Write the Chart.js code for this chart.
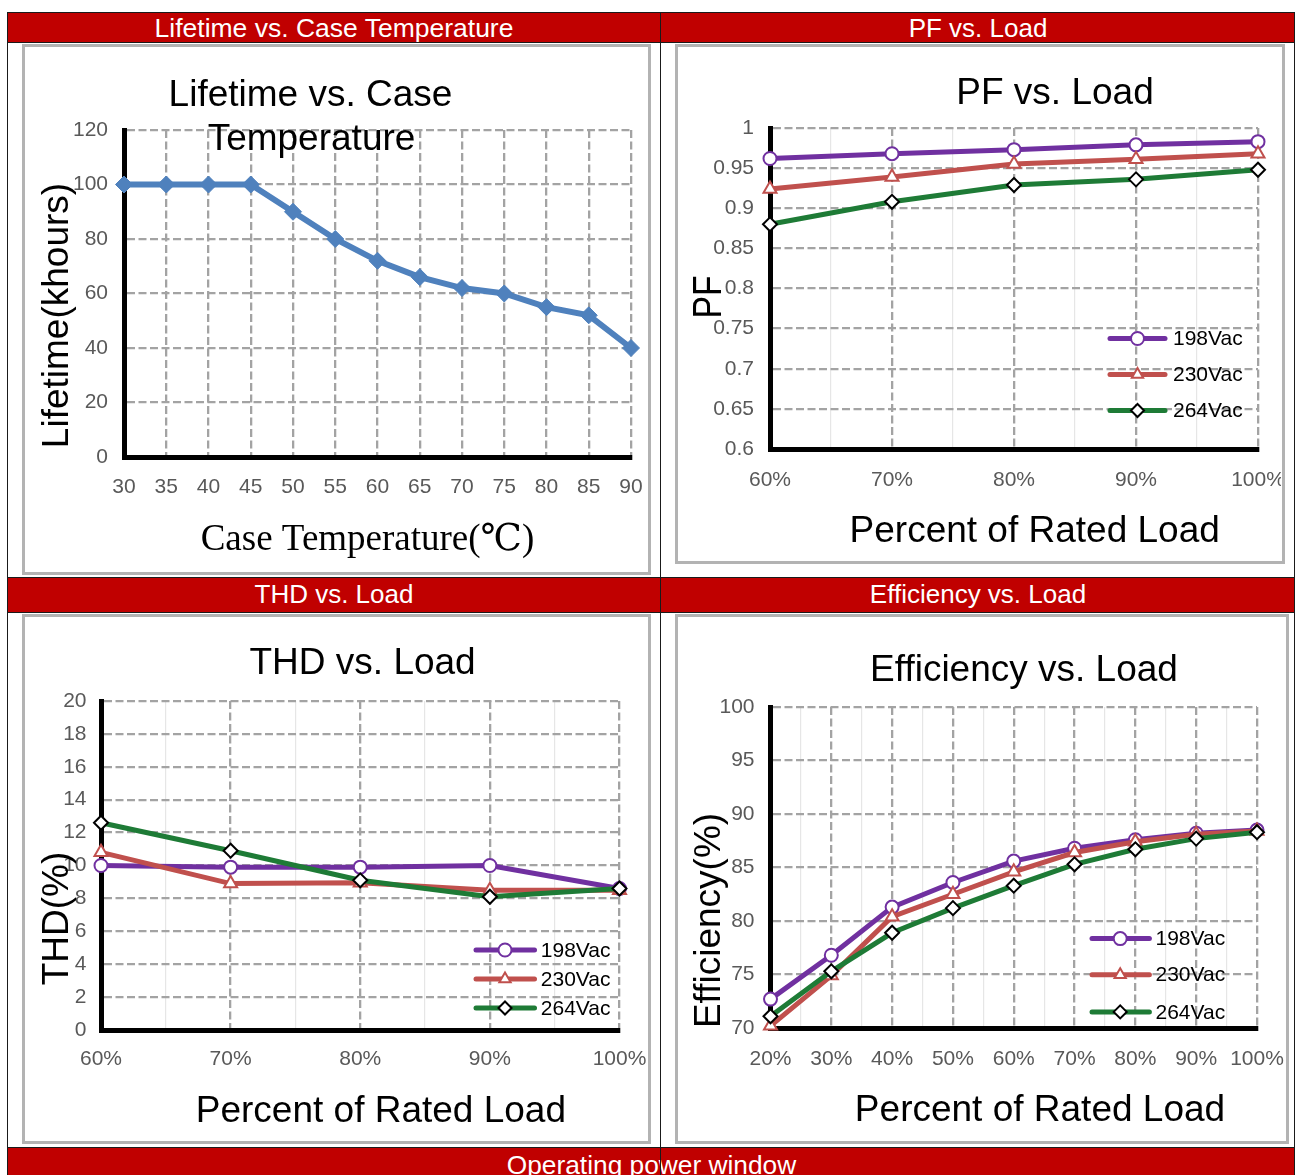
<!DOCTYPE html>
<html>
<head>
<meta charset="utf-8">
<title>Driver characteristic curves</title>
<script src="https://cdn.jsdelivr.net/npm/chart.js@4.4.1/dist/chart.umd.min.js"></script>
<style>
  html, body { margin:0; padding:0; background:#fff; }
  #page { position:relative; width:1296px; height:1175px; overflow:hidden; background:#fff; font-family:'Liberation Sans', Arial, sans-serif; }
  .bar { position:absolute; background:#C00000; color:#fff; text-align:center; box-sizing:border-box; border-top:1px solid #1a1a1a; border-bottom:1px solid #1a1a1a; font-size:26px; white-space:nowrap; overflow:hidden; }
  .vline { position:absolute; top:12px; width:1px; height:1163px; background:#1a1a1a; }
  .panel { position:absolute; box-sizing:border-box; border:3px solid #B3B3B3; background:#fff; }
  .cbox { position:absolute; }
  .cbox canvas { display:block; }
</style>
</head>
<body>
<div id="page">
  <div class="bar" style="left:8px;top:12px;width:652px;height:31px;line-height:31px;font-size:26.5px;">Lifetime vs. Case Temperature</div>
  <div class="bar" style="left:661px;top:12px;width:634px;height:31px;line-height:31px;">PF vs. Load</div>
  <div class="panel" style="left:22px;top:44px;width:629px;height:531px;"></div>
  <div class="panel" style="left:675px;top:44px;width:610px;height:520px;"></div>
  <div class="bar" style="left:8px;top:577px;width:652px;height:36px;line-height:32px;">THD vs. Load</div>
  <div class="bar" style="left:661px;top:577px;width:634px;height:36px;line-height:32px;">Efficiency vs. Load</div>
  <div class="panel" style="left:22px;top:614px;width:629px;height:530px;"></div>
  <div class="panel" style="left:675px;top:614px;width:614px;height:530px;"></div>
  <div class="bar" style="left:8px;top:1147px;width:1287px;height:36px;line-height:34px;font-size:26.3px;">Operating power window</div>
  <div class="vline" style="left:7px;"></div>
  <div class="vline" style="left:660px;"></div>
  <div class="vline" style="left:1294px;"></div>

  <div class="cbox" id="b1"><canvas id="c1"></canvas></div>
  <div class="cbox" id="b2"><canvas id="c2"></canvas></div>
  <div class="cbox" id="b3"><canvas id="c3"></canvas></div>
  <div class="cbox" id="b4"><canvas id="c4"></canvas></div>
</div>

<script>
// ---------------- DATA ----------------
const temps = [30, 35, 40, 45, 50, 55, 60, 65, 70, 75, 80, 85, 90];
const lifetime = [100, 100, 100, 100, 90, 80, 72, 66, 62, 60, 55, 52, 40];

const seriesNames = ['198Vac', '230Vac', '264Vac'];

const pfLoads = [60, 70, 80, 90, 100];
const pf198 = [0.962, 0.968, 0.973, 0.979, 0.983];
const pf230 = [0.924, 0.939, 0.955, 0.961, 0.968];
const pf264 = [0.880, 0.908, 0.929, 0.936, 0.948];

const thdLoads = [60, 70, 80, 90, 100];
const thd198 = [10.0, 9.9, 9.9, 10.0, 8.6];
const thd230 = [10.8, 8.9, 8.95, 8.5, 8.5];
const thd264 = [12.6, 10.9, 9.1, 8.1, 8.6];

const effLoads = [20, 30, 40, 50, 60, 70, 80, 90, 100];
const eff198 = [72.7, 76.8, 81.3, 83.6, 85.6, 86.8, 87.6, 88.2, 88.5];
const eff230 = [70.2, 74.9, 80.4, 82.5, 84.6, 86.4, 87.4, 88.1, 88.4];
const eff264 = [71.1, 75.3, 78.9, 81.2, 83.3, 85.3, 86.7, 87.7, 88.3];

// ---------------- STYLE ----------------
const FONT = "'Liberation Sans', Arial, sans-serif";
const SERIF = "'Liberation Serif', 'Times New Roman', 'DejaVu Serif', serif";
Chart.defaults.font.family = FONT;
Chart.defaults.color = '#595959';

const GRID = '#A3A3A3';
const MINOR = '#E6E6E6';
const GRID_W = 2.3;
const GRID_DASH = [8, 3.5];
const seriesStyle = [
  { color: '#7030A0', point: 'circle',   radius: 6.5, border: '#7030A0' },
  { color: '#C0504D', point: 'triangle', radius: 7.5, border: '#C0504D' },
  { color: '#1E7B36', point: 'rectRot',  radius: 7,   border: '#000000' }
];

function drawMarker(ctx, style, x, y, r, fill, stroke, bw) {
  ctx.beginPath();
  if (style === 'circle') {
    ctx.arc(x, y, r, 0, Math.PI * 2);
  } else if (style === 'triangle') {
    for (let k = 0; k < 3; k++) {
      const a = k * 2 * Math.PI / 3;
      const px = x + Math.sin(a) * r, py = y - Math.cos(a) * r;
      if (k) ctx.lineTo(px, py); else ctx.moveTo(px, py);
    }
    ctx.closePath();
  } else {
    ctx.moveTo(x - r, y); ctx.lineTo(x, y - r); ctx.lineTo(x + r, y); ctx.lineTo(x, y + r);
    ctx.closePath();
  }
  ctx.fillStyle = fill; ctx.fill();
  ctx.lineWidth = bw; ctx.strokeStyle = stroke; ctx.stroke();
}

// Draws chart titles, axis titles and in-plot legend (positions in page coordinates)
const decor = {
  id: 'decor',
  afterDraw(chart, args, o) {
    const ctx = chart.ctx, ox = o.origin[0], oy = o.origin[1];
    ctx.save();
    (o.texts || []).forEach(t => {
      ctx.save();
      ctx.font = t.font;
      ctx.fillStyle = '#000';
      ctx.textAlign = 'center';
      ctx.textBaseline = 'alphabetic';
      ctx.translate(t.x - ox, t.y - oy);
      if (t.rotate) ctx.rotate(-Math.PI / 2);
      if (t.sx) ctx.scale(t.sx, 1);
      ctx.fillText(t.text, 0, 0);
      ctx.restore();
    });
    if (o.legend) {
      const L = o.legend;
      chart.data.datasets.forEach((ds, i) => {
        const y = L.ys[i] - oy;
        ctx.save();
        ctx.strokeStyle = ds.borderColor;
        ctx.lineWidth = L.lineWidth;
        ctx.lineCap = 'round';
        ctx.beginPath();
        ctx.moveTo(L.x1 - ox, y); ctx.lineTo(L.x2 - ox, y);
        ctx.stroke();
        drawMarker(ctx, ds.pointStyle, L.mx - ox, y, L.radius, ds.pointBackgroundColor, ds.pointBorderColor, 2);
        ctx.font = L.font;
        ctx.fillStyle = '#000';
        ctx.textAlign = 'left';
        ctx.textBaseline = 'middle';
        ctx.fillText(ds.label, L.tx - ox, y + 1);
        ctx.restore();
      });
    }
    ctx.restore();
  }
};

function place(id, box) {
  const d = document.getElementById(id);
  d.style.left = box.x + 'px'; d.style.top = box.y + 'px';
  d.style.width = box.w + 'px'; d.style.height = box.h + 'px';
}

function buildChart(cfg) {
  place(cfg.boxId, cfg.box);
  const yW = cfg.area.l - cfg.box.x;
  const xH = cfg.box.y + cfg.box.h - cfg.area.b;
  const isMinor = c => c.tick && cfg.minorX && (Math.round(c.tick.value) % 10 !== 0);
  return new Chart(document.getElementById(cfg.canvasId), {
    type: 'line',
    data: { datasets: cfg.datasets },
    options: {
      responsive: true,
      maintainAspectRatio: false,
      animation: false,
      events: [],
      layout: { padding: { top: cfg.area.t - cfg.box.y, right: cfg.box.x + cfg.box.w - cfg.area.r, left: 0, bottom: 0 } },
      plugins: {
        legend: { display: false },
        tooltip: { enabled: false },
        decor: Object.assign({ origin: [cfg.box.x, cfg.box.y] }, cfg.decor)
      },
      scales: {
        x: {
          type: 'linear',
          min: cfg.x.min, max: cfg.x.max,
          afterFit: s => { s.height = xH; s.paddingLeft = 0; s.paddingRight = 0; },
          ticks: {
            stepSize: cfg.x.step, autoSkip: false, maxRotation: 0, minRotation: 0,
            padding: cfg.x.pad, font: { size: 21 }, color: '#595959',
            callback: cfg.x.cb
          },
          grid: {
            drawTicks: false,
            color: c => (c.tick && c.tick.value === cfg.x.min) ? 'rgba(0,0,0,0)' : (isMinor(c) ? MINOR : GRID),
            lineWidth: c => isMinor(c) ? 1.2 : GRID_W
          },
          border: { display: true, color: '#000', width: 5, dash: c => isMinor(c) ? [] : GRID_DASH }
        },
        y: {
          type: 'linear',
          min: cfg.y.min, max: cfg.y.max,
          afterFit: s => { s.width = yW; s.paddingTop = 0; s.paddingBottom = 0; },
          ticks: {
            stepSize: cfg.y.step, padding: cfg.y.pad, font: { size: 21 }, color: '#595959',
            callback: v => String(parseFloat(Number(v).toFixed(2)))
          },
          grid: {
            drawTicks: false,
            color: c => (c.tick && c.tick.value === cfg.y.min) ? 'rgba(0,0,0,0)' : GRID,
            lineWidth: GRID_W
          },
          border: { display: true, color: '#000', width: 5, dash: GRID_DASH }
        }
      }
    },
    plugins: [decor]
  });
}

function loadSets(loads, arrays) {
  return arrays.map((vals, i) => ({
    label: seriesNames[i],
    data: loads.map((x, j) => ({ x: x, y: vals[j] })),
    borderColor: seriesStyle[i].color,
    backgroundColor: seriesStyle[i].color,
    borderWidth: 5,
    pointStyle: seriesStyle[i].point,
    pointRadius: seriesStyle[i].radius,
    pointBackgroundColor: '#FFFFFF',
    pointBorderColor: seriesStyle[i].border,
    pointBorderWidth: 2,
    tension: 0,
    clip: false,
    order: 2 - i
  }));
}

const pctLabel = v => (Math.round(v) % 10 === 0) ? v + '%' : '';
const TITLE = '37px ' + FONT;
const LEGFONT = '21px ' + FONT;

// ---- Chart 1: Lifetime vs. Case Temperature ----
buildChart({
  boxId: 'b1', canvasId: 'c1',
  box: { x: 25, y: 47, w: 622, h: 525 },
  area: { l: 124, t: 130, r: 631, b: 457 },
  datasets: [{
    label: 'Lifetime',
    data: temps.map((t, i) => ({ x: t, y: lifetime[i] })),
    borderColor: '#4F81BD', backgroundColor: '#4F81BD',
    borderWidth: 6, pointStyle: 'rectRot', pointRadius: 8.5,
    pointBackgroundColor: '#4F81BD', pointBorderColor: '#4F81BD', pointBorderWidth: 1,
    tension: 0, clip: false
  }],
  x: { min: 30, max: 90, step: 5, pad: 18, cb: v => String(v) },
  y: { min: 0, max: 120, step: 20, pad: 16 },
  decor: {
    texts: [
      { text: 'Lifetime vs. Case', x: 310.5, y: 105.5, font: TITLE },
      { text: 'Temperature', x: 311.5, y: 150, font: TITLE },
      { text: 'Lifetime(khours)', x: 67.5, y: 315.5, rotate: true, font: TITLE },
      { text: 'Case Temperature(\u2103)', x: 367.5, y: 550, font: '37px ' + SERIF }
    ]
  }
});

// ---- Chart 2: PF vs. Load ----
buildChart({
  boxId: 'b2', canvasId: 'c2',
  box: { x: 678, y: 47, w: 603, h: 514 },
  area: { l: 770, t: 128, r: 1258, b: 449 },
  datasets: loadSets(pfLoads, [pf198, pf230, pf264]),
  minorX: true,
  x: { min: 60, max: 100, step: 5, pad: 19, cb: pctLabel },
  y: { min: 0.6, max: 1, step: 0.05, pad: 16 },
  decor: {
    texts: [
      { text: 'PF vs. Load', x: 1055, y: 103.7, font: TITLE },
      { text: 'PF', x: 721, y: 297, rotate: true, sx: 0.84, font: '40px ' + FONT },
      { text: 'Percent of Rated Load', x: 1034.7, y: 541.5, font: TITLE }
    ],
    legend: { x1: 1110, x2: 1165, mx: 1137.5, tx: 1173, ys: [338.5, 374.5, 410.5], radius: 6.5, lineWidth: 5, font: LEGFONT }
  }
});

// ---- Chart 3: THD vs. Load ----
buildChart({
  boxId: 'b3', canvasId: 'c3',
  box: { x: 25, y: 618, w: 622, h: 524 },
  area: { l: 101, t: 701, r: 619.5, b: 1030 },
  datasets: loadSets(thdLoads, [thd198, thd230, thd264]),
  minorX: true,
  x: { min: 60, max: 100, step: 5, pad: 16.5, cb: pctLabel },
  y: { min: 0, max: 20, step: 2, pad: 14.5 },
  decor: {
    texts: [
      { text: 'THD vs. Load', x: 362.6, y: 674, font: TITLE },
      { text: 'THD(%)', x: 67.5, y: 918.5, rotate: true, font: TITLE },
      { text: 'Percent of Rated Load', x: 380.9, y: 1121.9, font: TITLE }
    ],
    legend: { x1: 476, x2: 534.5, mx: 505, tx: 540.8, ys: [950, 979, 1008], radius: 6.5, lineWidth: 5, font: LEGFONT }
  }
});

// ---- Chart 4: Efficiency vs. Load ----
buildChart({
  boxId: 'b4', canvasId: 'c4',
  box: { x: 678, y: 618, w: 608, h: 522 },
  area: { l: 770.5, t: 707, r: 1257, b: 1028 },
  datasets: loadSets(effLoads, [eff198, eff230, eff264]),
  minorX: true,
  x: { min: 20, max: 100, step: 5, pad: 18.5, cb: pctLabel },
  y: { min: 70, max: 100, step: 5, pad: 16 },
  decor: {
    texts: [
      { text: 'Efficiency vs. Load', x: 1024, y: 680.6, font: TITLE },
      { text: 'Efficiency(%)', x: 720, y: 920.5, rotate: true, font: TITLE },
      { text: 'Percent of Rated Load', x: 1040, y: 1120.8, font: TITLE }
    ],
    legend: { x1: 1092, x2: 1149.4, mx: 1120.2, tx: 1155.5, ys: [938.6, 974.7, 1011.9], radius: 6.5, lineWidth: 5, font: LEGFONT }
  }
});
</script>
</body>
</html>
